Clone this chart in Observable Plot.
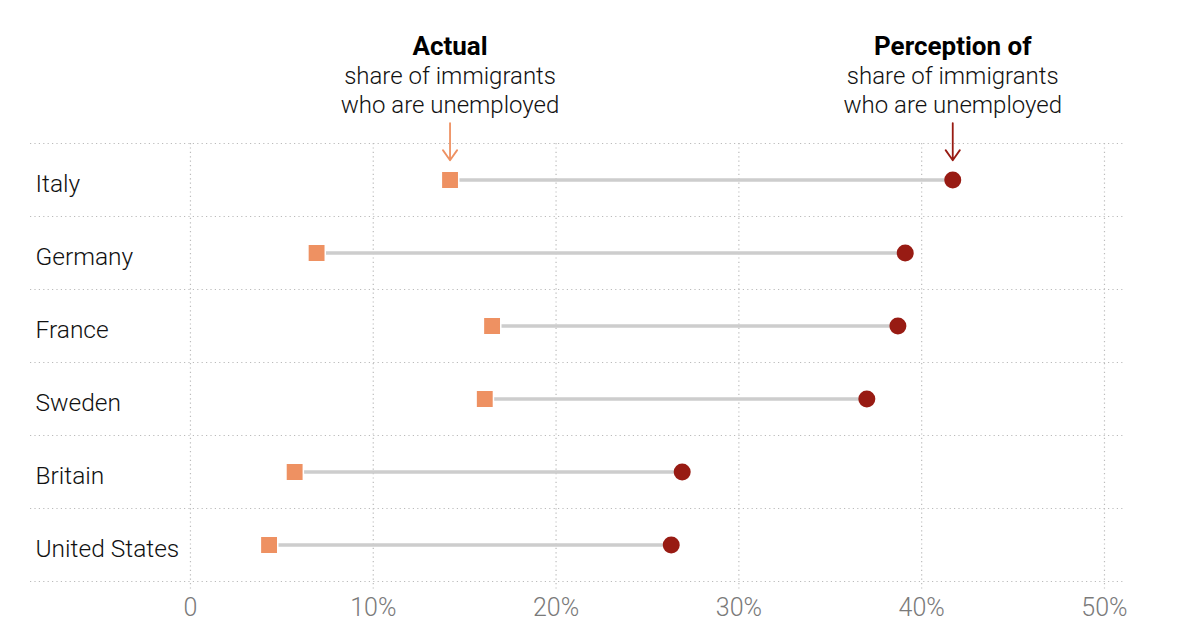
<!DOCTYPE html>
<html>
<head>
<meta charset="utf-8">
<script src="https://cdn.jsdelivr.net/npm/d3@7"></script>
<script src="https://cdn.jsdelivr.net/npm/@observablehq/plot@0.6"></script>
<style>
  html, body { margin: 0; padding: 0; background: #fff; }
  #chart svg { display: block; }
</style>
</head>
<body>
<div id="chart"></div>
<script>
const countries = ["Italy", "Germany", "France", "Sweden", "Britain", "United States"];
const actual = [14.2, 6.9, 16.5, 16.1, 5.7, 4.3];
const perception = [41.7, 39.1, 38.7, 37.0, 26.9, 26.3];
const xTicks = [0, 10, 20, 30, 40, 50];
const xTickLabels = ["0", "10%", "20%", "30%", "40%", "50%"];
const annotations = [
  {title: "Actual", sub: "share of immigrants\nwho are unemployed", series: "actual"},
  {title: "Perception of", sub: "share of immigrants\nwho are unemployed", series: "perception"}
];

const rows = countries.map((c, i) => ({country: c, row: i + 0.5, actual: actual[i], perception: perception[i]}));
const boundaries = d3.range(countries.length + 1);
const ann = annotations.map(a => ({...a, x: a.series === "actual" ? actual[0] : perception[0], row: 0.5}));

const font = "Roboto, 'Liberation Sans', Arial, sans-serif";
const orange = "#ee9162";
const red = "#981b13";

const chart = Plot.plot({
  width: 1199,
  height: 644,
  marginTop: 143,
  marginBottom: 63,
  marginLeft: 30,
  marginRight: 74,
  style: {fontFamily: font, background: "#fff", overflow: "visible"},
  x: {domain: [-8.75, 51.15]},
  y: {domain: [0, countries.length], reverse: true, axis: null},
  marks: [
    Plot.ruleY(boundaries, {y: d => d, stroke: "#bbb", strokeWidth: 1.2, strokeDasharray: "1.2,3.2"}),
    Plot.ruleX(xTicks, {x: d => d, y1: 0, y2: countries.length, stroke: "#bbb", strokeWidth: 1.2, strokeDasharray: "1.2,3.2", insetBottom: -8}),
    Plot.axisX({ticks: xTicks, tickSize: 0, tickPadding: 17, fontSize: 25, fontWeight: 300, fill: "#7a7a7a", tickFormat: (d) => xTickLabels[xTicks.indexOf(d)], fontFamily: font}),
    Plot.text(rows, {x: -8.75, y: "row", text: "country", textAnchor: "start", dx: 5, dy: 4, fontSize: 24.5, fontWeight: 300, fill: "#111"}),
    Plot.link(rows, {x1: "actual", x2: "perception", y1: "row", y2: "row", stroke: "#cdcdcd", strokeWidth: 3.5}),
    Plot.dot(rows, {x: "actual", y: "row", symbol: "square", r: 9.8, fill: orange, stroke: "#fff", strokeWidth: 1.5}),
    Plot.dot(rows, {x: "perception", y: "row", r: 8.5, fill: red}),
    Plot.arrow(ann, {x1: "x", x2: "x", y1: d => d.row - 0.78, y2: d => d.row - 0.27, stroke: d => d.series === "actual" ? orange : red, strokeWidth: 1.8, headLength: 11, headAngle: 70, bend: 0}),
    Plot.text(ann, {x: "x", y: "row", text: "title", dy: -133, fontSize: 26, fontWeight: "bold", fill: "#000"}),
    Plot.text(ann, {x: "x", y: "row", text: "sub", dy: -91, fontSize: 24, fontWeight: 300, fill: "#111", lineHeight: 1.2})
  ]
});
document.getElementById("chart").appendChild(chart);
</script>
</body>
</html>
